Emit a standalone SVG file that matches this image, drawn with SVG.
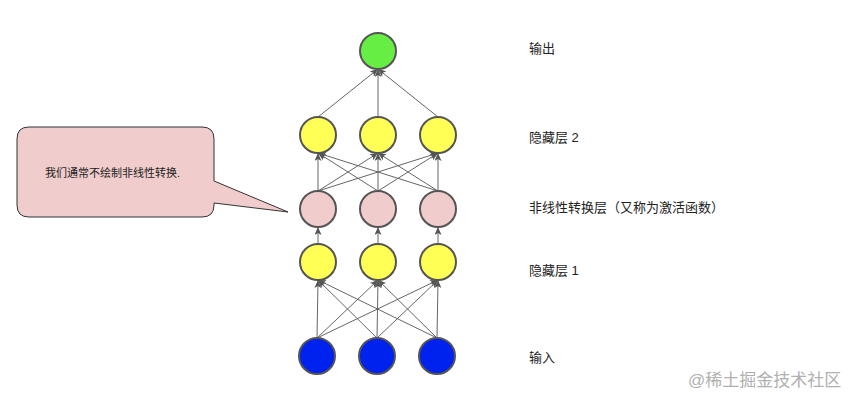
<svg xmlns="http://www.w3.org/2000/svg" width="864" height="402" viewBox="0 0 864 402">
<style>
.n{stroke:#555;stroke-width:2}
.e{stroke:#666;stroke-width:1;fill:none;marker-end:url(#a)}
.t{font-family:"Liberation Sans","Noto Sans CJK SC",sans-serif;font-size:13px;fill:#222}
</style>
<defs>
<marker id="a" markerUnits="userSpaceOnUse" markerWidth="10" markerHeight="8" refX="8" refY="3.5" orient="auto">
<path d="M0,0 L8,3.5 L0,7 L2,3.5 z" fill="#555"/>
</marker>
</defs>
<rect width="864" height="402" fill="#fff"/>
<g id="connectors">
<path class="e" d="M318,117 L378,69"/>
<path class="e" d="M378,117 L378,69"/>
<path class="e" d="M438,117 L378,69"/>
<path class="e" d="M318,191 L318,153"/>
<path class="e" d="M318,191 L378,153"/>
<path class="e" d="M318,191 L438,153"/>
<path class="e" d="M378,191 L318,153"/>
<path class="e" d="M378,191 L378,153"/>
<path class="e" d="M378,191 L438,153"/>
<path class="e" d="M438,191 L318,153"/>
<path class="e" d="M438,191 L378,153"/>
<path class="e" d="M438,191 L438,153"/>
<path class="e" d="M318,244 L318,227"/>
<path class="e" d="M378,244 L378,227"/>
<path class="e" d="M438,244 L438,227"/>
<path class="e" d="M317,338 L318,280"/>
<path class="e" d="M317,338 L378,280"/>
<path class="e" d="M317,338 L438,280"/>
<path class="e" d="M377,338 L318,280"/>
<path class="e" d="M377,338 L378,280"/>
<path class="e" d="M377,338 L438,280"/>
<path class="e" d="M437,338 L318,280"/>
<path class="e" d="M437,338 L378,280"/>
<path class="e" d="M437,338 L438,280"/>
</g>
<g id="out"><circle class="n" cx="378" cy="51" r="18" fill="#66ee44"/></g>
<g id="h2a"><circle class="n" cx="318" cy="135" r="18" fill="#ffff55"/></g>
<g id="h2b"><circle class="n" cx="378" cy="135" r="18" fill="#ffff55"/></g>
<g id="h2c"><circle class="n" cx="438" cy="135" r="18" fill="#ffff55"/></g>
<g id="na"><circle class="n" cx="318" cy="209" r="18" fill="#f0cccc"/></g>
<g id="nb"><circle class="n" cx="378" cy="209" r="18" fill="#f0cccc"/></g>
<g id="nc"><circle class="n" cx="438" cy="209" r="18" fill="#f0cccc"/></g>
<g id="h1a"><circle class="n" cx="318" cy="262" r="18" fill="#ffff55"/></g>
<g id="h1b"><circle class="n" cx="378" cy="262" r="18" fill="#ffff55"/></g>
<g id="h1c"><circle class="n" cx="438" cy="262" r="18" fill="#ffff55"/></g>
<g id="ia"><circle class="n" cx="317" cy="356" r="18" fill="#0022ee"/></g>
<g id="ib"><circle class="n" cx="377" cy="356" r="18" fill="#0022ee"/></g>
<g id="ic"><circle class="n" cx="437" cy="356" r="18" fill="#0022ee"/></g>
<g id="callout">
<path d="M29,127 H202 Q214,127 214,139 V181 L288,212 L214,203 V205 Q214,217 202,217 H29 Q17,217 17,205 V139 Q17,127 29,127 Z" fill="#f0cccc" stroke="#333" stroke-width="1"/>
<text class="t" x="45" y="177" style="font-size:11px">我们通常不绘制非线性转换.</text>
</g>
<g id="labels">
<text class="t" x="529" y="53">输出</text>
<text class="t" x="529" y="142">隐藏层 2</text>
<text class="t" x="529" y="212">非线性转换层（又称为激活函数）</text>
<text class="t" x="529" y="275">隐藏层 1</text>
<text class="t" x="529" y="362">输入</text>
</g>
<text x="688" y="386" style="font-family:'Liberation Sans','Noto Sans CJK SC',sans-serif;font-size:17px;fill:#b0b0b0">@稀土掘金技术社区</text>
</svg>
